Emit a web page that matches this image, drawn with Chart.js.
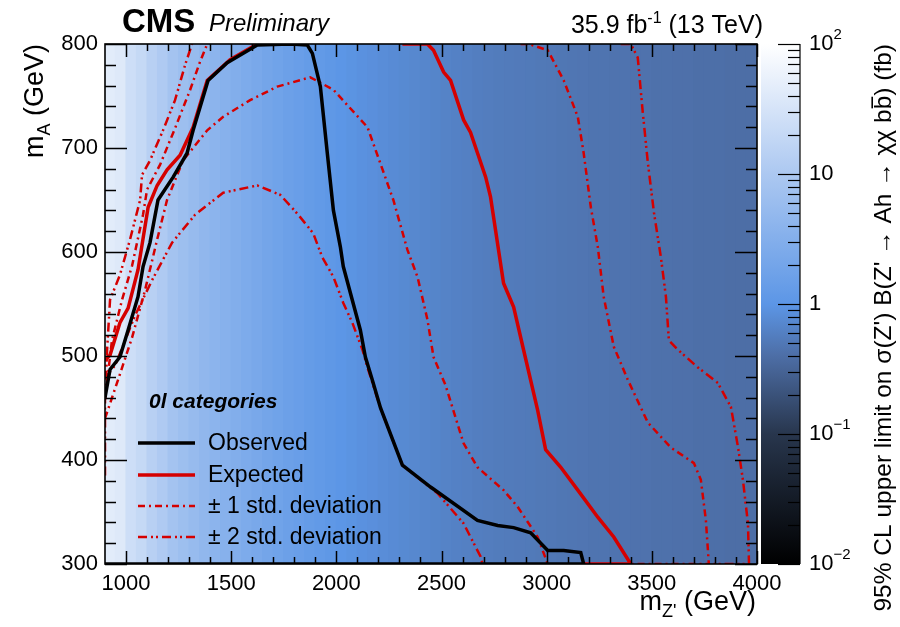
<!DOCTYPE html>
<html>
<head>
<meta charset="utf-8">
<script src="https://cdn.jsdelivr.net/npm/chart.js@4.4.1/dist/chart.umd.min.js"></script>
<style>
  html, body { margin: 0; padding: 0; background: #fff; }
  canvas { display: block; }
</style>
</head>
<body>
<canvas id="limit-chart" width="900" height="627"></canvas>
<script>
const FONT = "'Liberation Sans', Arial, Helvetica, sans-serif";

// ============ Data ============
// m_Z' bin centres (GeV) of the limit map, 50 GeV wide
const mzBins = [
  925, 975, 1025, 1075, 1125, 1175, 1225, 1275, 1325, 1375,
  1425, 1475, 1525, 1575, 1625, 1675, 1725, 1775, 1825, 1875,
  1925, 1975, 2025, 2075, 2125, 2175, 2225, 2275, 2325, 2375,
  2425, 2475, 2525, 2575, 2625, 2675, 2725, 2775, 2825, 2875,
  2925, 2975, 3025, 3075, 3125, 3175, 3225, 3275, 3325, 3375,
  3425, 3475, 3525, 3575, 3625, 3675, 3725, 3775, 3825, 3875,
  3925, 3975,
];
// 95% CL upper limit (fb) per bin
const limitValues = [
  45, 40, 25, 20, 14, 11, 8, 6.5, 5.5, 4.6,
  4, 3.4, 3, 2.6, 2.3, 2.0, 1.8, 1.6, 1.45, 1.3,
  1.2, 1.1, 1.0, 0.95, 0.9, 0.86, 0.82, 0.78, 0.75, 0.72,
  0.69, 0.67, 0.64, 0.62, 0.6, 0.58, 0.56, 0.55, 0.54, 0.53,
  0.52, 0.51, 0.5, 0.49, 0.48, 0.47, 0.46, 0.46, 0.45, 0.45,
  0.44, 0.44, 0.43, 0.43, 0.42, 0.42, 0.41, 0.41, 0.41, 0.4,
  0.4, 0.4,
];

// contours, [m_Z', m_A] in GeV
const observed = [
  [900, 460], [924, 487], [971, 499], [1010, 525], [1057, 557], [1081, 586],
  [1114, 609], [1152, 650], [1224, 672], [1290, 695], [1319, 717], [1390, 765],
  [1481, 782], [1624, 799], [1781, 800], [1862, 799], [1886, 791], [1924, 759],
  [1957, 695], [1986, 640], [2019, 605], [2033, 586], [2114, 525], [2138, 499],
  [2171, 477], [2210, 450], [2314, 395], [2448, 374], [2671, 342], [2767, 337],
  [2843, 335], [2924, 330], [3005, 313], [3081, 313], [3162, 311], [3176, 300],
  [900, 300],
];
const expectedLeft = [
  [900, 496], [924, 501], [971, 532], [1010, 546], [1057, 583], [1105, 643],
  [1148, 664], [1195, 679], [1257, 693], [1319, 720], [1386, 765], [1495, 785],
  [1624, 800],
];
const expectedRight = [
  [2314, 800], [2433, 800], [2462, 794], [2510, 773], [2543, 765], [2605, 727],
  [2638, 715], [2710, 672], [2733, 653], [2795, 570], [2843, 547], [2890, 506],
  [2957, 448], [2995, 410], [3067, 393], [3148, 371], [3243, 345], [3319, 326],
  [3400, 300], [3176, 300],
];
const sigma1OuterLeft = [
  [900, 458], [933, 515], [981, 554], [1029, 587], [1081, 636], [1100, 660],
  [1162, 684], [1233, 719], [1305, 756], [1352, 783], [1386, 800],
];
const sigma1OuterRight = [
  [2876, 800], [2914, 800], [3005, 794], [3081, 765], [3148, 730], [3176, 695],
  [3210, 643], [3243, 605], [3271, 557], [3319, 509], [3386, 477], [3481, 436],
  [3590, 412], [3700, 397], [3733, 381], [3757, 342], [3771, 300], [3400, 300],
];
const sigma1Inner = [
  [900, 440], [962, 477], [1029, 518], [1090, 563], [1148, 612], [1195, 650],
  [1271, 688], [1386, 717], [1462, 730], [1590, 746], [1719, 759], [1876, 768],
  [1986, 756], [2148, 720], [2271, 650], [2338, 602], [2386, 576], [2433, 535],
  [2462, 499], [2519, 472], [2605, 416], [2671, 393], [2795, 371], [2862, 355],
  [2957, 326], [3005, 300],
];
const sigma2OuterLeft = [
  [900, 385], [900, 458], [910, 506], [924, 554], [971, 578], [1019, 612],
  [1067, 650], [1076, 674], [1114, 688], [1176, 717], [1233, 746], [1281, 780],
  [1314, 800],
];
const sigma2OuterRight = [
  [3352, 800], [3400, 800], [3433, 787], [3457, 734], [3481, 686], [3510, 638],
  [3543, 595], [3567, 557], [3581, 515], [3624, 506], [3719, 489], [3814, 474],
  [3876, 451], [3910, 412], [3933, 381], [3957, 339], [3962, 300], [3771, 300],
];
const sigma2Inner = [
  [900, 479], [948, 491], [1043, 539], [1124, 573], [1219, 609], [1329, 636],
  [1462, 657], [1624, 664], [1733, 655], [1814, 637], [1890, 618], [1933, 595],
  [1986, 576], [2033, 551], [2076, 532], [2124, 506], [2148, 489], [2210, 450],
  [2314, 395], [2481, 368], [2605, 339], [2686, 307], [2695, 300],
];

const xTickValues = [1000, 1500, 2000, 2500, 3000, 3500, 4000];
const yTickValues = [300, 400, 500, 600, 700, 800];
const zTickExponents = [-2, -1, 0, 1, 2];
const legendLabels = ['Observed', 'Expected', '\u00b1 1 std. deviation', '\u00b1 2 std. deviation'];

// ============ Style ============
const RED = '#d50000';
const DASH_1SIG = [7, 4, 2, 4];
const DASH_2SIG = [9, 4, 2, 3, 2, 4];
const paletteStops = [0, 0.25, 0.4, 0.5, 0.75, 1];
const paletteColors = ['#000000', '#28364d', '#4d6ea6', '#5c96e6', '#acc8f1', '#ffffff'];

function hexToRgb(h) {
  const n = parseInt(h.slice(1), 16);
  return [(n >> 16) & 255, (n >> 8) & 255, n & 255];
}

function paletteColor(value) {
  const t = Math.min(1, Math.max(0, (Math.log10(value) + 2) / 4));
  for (let i = 1; i < paletteStops.length; i++) {
    if (t <= paletteStops[i]) {
      const f = (t - paletteStops[i - 1]) / (paletteStops[i] - paletteStops[i - 1]);
      const a = hexToRgb(paletteColors[i - 1]);
      const b = hexToRgb(paletteColors[i]);
      const c = a.map((v, k) => Math.round(v + (b[k] - v) * f));
      return `rgb(${c[0]},${c[1]},${c[2]})`;
    }
  }
  return paletteColors[paletteColors.length - 1];
}

const toXY = (pts) => pts.map(([x, y]) => ({ x, y }));

function contour(points, color, width, dash, order) {
  return {
    type: 'line',
    data: toXY(points),
    borderColor: color,
    borderWidth: width,
    borderDash: dash,
    pointRadius: 0,
    fill: false,
    tension: 0,
    order,
    xAxisID: 'x',
    yAxisID: 'y',
  };
}

// ============ Text helpers ============
// parts: [{ t, size, style, dy, bar }]
function measureParts(ctx, parts) {
  return parts.map((p) => {
    ctx.font = `${p.style || ''} ${p.size}px ${FONT}`;
    return ctx.measureText(p.t).width;
  });
}

function drawParts(ctx, parts, x, y, align) {
  const widths = measureParts(ctx, parts);
  const total = widths.reduce((s, w) => s + w, 0);
  let cx = align === 'right' ? x - total : x;
  ctx.textAlign = 'left';
  parts.forEach((p, i) => {
    ctx.font = `${p.style || ''} ${p.size}px ${FONT}`;
    ctx.fillText(p.t, cx, y + (p.dy || 0));
    if (p.bar) {
      const bw = ctx.measureText(p.bar).width;
      ctx.fillRect(cx + widths[i] - bw + 1, y - p.size * 0.8, bw - 2, 1.6);
    }
    cx += widths[i];
  });
}

// ============ Plugins ============
const frameAndTicks = {
  id: 'frameAndTicks',
  beforeDatasetsDraw(chart) {
    const { ctx } = chart;
    const cb = chart.scales.cb;
    const top = cb.getPixelForValue(100);
    const bottom = cb.getPixelForValue(0.01);
    const left = chart.chartArea.right + 4;
    const right = left + 39;
    const grad = ctx.createLinearGradient(0, bottom, 0, top);
    paletteStops.forEach((s, i) => grad.addColorStop(s, paletteColors[i]));
    ctx.save();
    ctx.fillStyle = grad;
    ctx.fillRect(left, top, right - left, bottom - top);
    ctx.restore();
  },
  afterDatasetsDraw(chart) {
    const { ctx, chartArea: a } = chart;
    const { x, y, cb } = chart.scales;
    ctx.save();
    ctx.strokeStyle = '#000';
    ctx.lineWidth = 1.5;
    const seg = (x1, y1, x2, y2) => {
      ctx.beginPath();
      ctx.moveTo(x1, y1);
      ctx.lineTo(x2, y2);
      ctx.stroke();
    };
    for (let v = 1000; v <= 4000; v += 100) {
      const px = Math.round(x.getPixelForValue(v)) + 0.5;
      const len = v % 500 === 0 ? 13 : 7;
      seg(px, a.bottom, px, a.bottom - len);
      seg(px, a.top, px, a.top + len);
    }
    for (let v = 300; v <= 800; v += 20) {
      const py = Math.round(y.getPixelForValue(v)) + 0.5;
      const len = v % 100 === 0 ? 22 : 11;
      seg(a.left, py, a.left + len, py);
      seg(a.right, py, a.right - len, py);
    }
    ctx.lineWidth = 1.6;
    ctx.strokeRect(a.left, a.top, a.right - a.left, a.bottom - a.top);

    // colour scale axis
    const cbRight = a.right + 43;
    ctx.lineWidth = 1.2;
    seg(cbRight, cb.getPixelForValue(100), cbRight, cb.getPixelForValue(0.01));
    zTickExponents.forEach((e) => {
      for (let m = 1; m <= 9; m++) {
        const v = m * Math.pow(10, e);
        if (v > 100.0001) break;
        const py = Math.round(cb.getPixelForValue(v)) + 0.5;
        seg(cbRight, py, cbRight - (m === 1 ? 22 : 12), py);
      }
    });
    ctx.fillStyle = '#000';
    ctx.textBaseline = 'middle';
    zTickExponents.forEach((e) => {
      const py = cb.getPixelForValue(Math.pow(10, e));
      const parts = e === 0 ? [{ t: '1', size: 22 }]
        : e === 1 ? [{ t: '10', size: 22 }]
        : [{ t: '10', size: 22 }, { t: e < 0 ? '\u2212' + (-e) : String(e), size: 15, dy: -9 }];
      drawParts(ctx, parts, cbRight + 9, py, 'left');
    });
    ctx.restore();
  },
};

const annotations = {
  id: 'annotations',
  afterDraw(chart) {
    const { ctx, chartArea: a } = chart;
    ctx.save();
    ctx.fillStyle = '#000';
    ctx.textBaseline = 'alphabetic';

    // header
    drawParts(ctx, [{ t: 'CMS', size: 33, style: 'bold' }], 122, 32, 'left');
    drawParts(ctx, [{ t: 'Preliminary', size: 24, style: 'italic' }], 209, 31, 'left');
    drawParts(ctx, [
      { t: '35.9 fb', size: 25 },
      { t: '-1', size: 16, dy: -10 },
      { t: ' (13 TeV)', size: 25 },
    ], 763, 33, 'right');

    // x axis title
    drawParts(ctx, [
      { t: 'm', size: 27 },
      { t: "Z'", size: 18, dy: 7 },
      { t: ' (GeV)', size: 27 },
    ], a.right - 1, 610, 'right');

    // y axis title
    ctx.save();
    ctx.translate(43, a.top);
    ctx.rotate(-Math.PI / 2);
    drawParts(ctx, [
      { t: 'm', size: 27 },
      { t: 'A', size: 18, dy: 7 },
      { t: ' (GeV)', size: 27 },
    ], 0, 0, 'right');
    ctx.restore();

    // colour scale title
    ctx.save();
    ctx.translate(891, a.top);
    ctx.rotate(-Math.PI / 2);
    drawParts(ctx, [
      { t: "95% CL upper limit on \u03c3(Z') B(Z' \u2192 Ah \u2192 \u03c7\u03c7 bb", size: 24.5, bar: 'b' },
      { t: ') (fb)', size: 24.5 },
    ], 0, 0, 'right');
    ctx.restore();

    // legend
    drawParts(ctx, [{ t: '0l categories', size: 21, style: 'italic bold' }], 149, 408, 'left');
    const legendSets = [0, 1, 3, 5];
    const rows = [443, 475, 506, 537];
    ctx.textBaseline = 'middle';
    legendSets.forEach((di, i) => {
      const ds = chart.data.datasets[di];
      ctx.strokeStyle = ds.borderColor;
      ctx.lineWidth = ds.borderWidth;
      ctx.setLineDash(ds.borderDash || []);
      ctx.beginPath();
      ctx.moveTo(138, rows[i]);
      ctx.lineTo(195, rows[i]);
      ctx.stroke();
      ctx.setLineDash([]);
      drawParts(ctx, [{ t: legendLabels[i], size: 23 }], 208, rows[i] + 1, 'left');
    });
    ctx.restore();
  },
};

// ============ Chart ============
const heatmap = {
  type: 'bar',
  data: mzBins.map((m) => ({ x: m, y: [300, 800] })),
  backgroundColor: limitValues.map(paletteColor),
  borderWidth: 0,
  barPercentage: 1,
  categoryPercentage: 1,
  inflateAmount: 0.6,
  order: 10,
  xAxisID: 'x',
  yAxisID: 'y',
};

new Chart(document.getElementById('limit-chart'), {
  type: 'bar',
  data: {
    datasets: [
      contour(observed, '#000000', 3.5, [], 0),
      contour(expectedLeft, RED, 3.5, [], 1),
      contour(expectedRight, RED, 3.5, [], 1),
      contour(sigma1OuterLeft, RED, 2.5, DASH_1SIG, 2),
      contour(sigma1OuterRight, RED, 2.5, DASH_1SIG, 2),
      contour(sigma2OuterLeft, RED, 2.5, DASH_2SIG, 3),
      contour(sigma2OuterRight, RED, 2.5, DASH_2SIG, 3),
      contour(sigma1Inner, RED, 2.5, DASH_1SIG, 2),
      contour(sigma2Inner, RED, 2.5, DASH_2SIG, 3),
      heatmap,
    ],
  },
  options: {
    responsive: false,
    animation: false,
    events: [],
    layout: { padding: { top: 44, left: 0, right: 0, bottom: 0 } },
    plugins: {
      legend: { display: false },
      tooltip: { enabled: false },
    },
    scales: {
      x: {
        type: 'linear',
        position: 'bottom',
        offset: false,
        min: 900,
        max: 4000,
        afterBuildTicks: (s) => { s.ticks = xTickValues.map((v) => ({ value: v })); },
        afterFit: (s) => { s.height = 63; },
        grid: { display: false, drawTicks: false, offset: false },
        border: { display: false },
        ticks: {
          callback: (v) => String(v),
          color: '#000',
          padding: 7,
          maxRotation: 0,
          autoSkip: false,
          font: { family: FONT, size: 22 },
        },
      },
      y: {
        type: 'linear',
        position: 'left',
        min: 300,
        max: 800,
        afterBuildTicks: (s) => { s.ticks = yTickValues.map((v) => ({ value: v })); },
        afterFit: (s) => { s.width = 105; },
        grid: { display: false, drawTicks: false },
        border: { display: false },
        ticks: {
          callback: (v) => String(v),
          color: '#000',
          padding: 7,
          font: { family: FONT, size: 22 },
        },
      },
      cb: {
        type: 'logarithmic',
        position: 'right',
        min: 0.01,
        max: 100,
        afterFit: (s) => { s.width = 143; },
        grid: { display: false, drawTicks: false },
        border: { display: false },
        ticks: { display: false },
      },
    },
  },
  plugins: [frameAndTicks, annotations],
});
</script>
</body>
</html>
